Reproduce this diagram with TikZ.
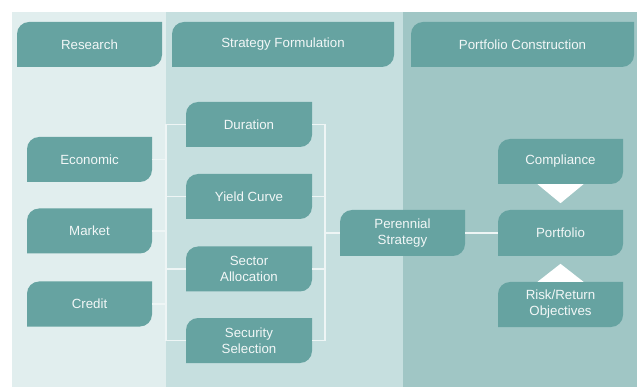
\documentclass[tikz,border=0pt]{standalone}
\usepackage{fontspec}
\setmainfont{Liberation Sans}
\definecolor{colA}{HTML}{E1EEEE}
\definecolor{colB}{HTML}{C6DFDF}
\definecolor{colC}{HTML}{A0C6C5}
\definecolor{boxc}{HTML}{66A3A1}
\definecolor{txtc}{HTML}{F2F7F7}
\definecolor{linec}{HTML}{EEF5F5}
\tikzset{
  leaf/.style={rectangle, minimum width=125pt, minimum height=45pt, inner sep=0pt,
    align=center, text=txtc, font=\fontsize{13.3}{16}\selectfont,
    path picture={\fill[boxc] (path picture bounding box.west)
      {[rounded corners=12pt] -- (path picture bounding box.north west) -- (path picture bounding box.north)}
      -- (path picture bounding box.north east) -- (path picture bounding box.east)
      {[rounded corners=12pt] -- (path picture bounding box.south east) -- (path picture bounding box.south)}
      -- (path picture bounding box.south west) -- cycle;}},
  conn/.style={draw=linec, line width=1.5pt},
  tri/.style={fill=white}
}
\begin{document}
\begin{tikzpicture}[x=1pt,y=-1pt]
\useasboundingbox (0,0) rectangle (637,387);
% columns
\fill[colA] (12,12) rectangle (166,387);
\fill[colB] (166,12) rectangle (403,387);
\fill[colC] (403,12) rectangle (637,387);
% headers
\node[leaf, minimum width=145pt] (hres) at (89.5,44.5) {Research};
\node[leaf, minimum width=222pt] (hstr) at (283,44.5) {Strategy Formulation};
\node[leaf, minimum width=223pt] (hpor) at (522.5,44.5) {Portfolio Construction};
% research
\node[leaf] (eco) at (89.5,159.5) {Economic};
\node[leaf] (mkt) at (89.5,231) {Market};
\node[leaf] (cre) at (89.5,304) {Credit};
% strategy
\node[leaf, minimum width=126pt] (dur) at (249,124.5) {Duration};
\node[leaf, minimum width=126pt] (yc) at (249,196.5) {Yield Curve};
\node[leaf, minimum width=126pt] (sec) at (249,269) {Sector\\Allocation};
\node[leaf, minimum width=126pt] (sel) at (249,340.5) {Security\\Selection};
\node[leaf, minimum height=46pt] (per) at (402.5,233) {Perennial\\Strategy};
% portfolio
\node[leaf] (comp) at (560.5,161.5) {Compliance};
\node[leaf, minimum height=46pt] (port) at (560.5,233) {Portfolio};
\node[leaf] (risk) at (560.5,304.5) {Risk/Return\\Objectives};
% buses
\coordinate (lbus) at (166,0);
\coordinate (rbus) at (325,0);
\draw[conn] (eco.east) -- (eco.east -| lbus);
\draw[conn] (mkt.east) -- (mkt.east -| lbus);
\draw[conn] (cre.east) -- (cre.east -| lbus);
\draw[conn] (dur.west -| lbus) -- (sel.west -| lbus);
\draw[conn] (dur.west) -- (dur.west -| lbus);
\draw[conn] (yc.west) -- (yc.west -| lbus);
\draw[conn] (sec.west) -- (sec.west -| lbus);
\draw[conn] (sel.west) -- (sel.west -| lbus);
\draw[conn] (dur.east -| rbus) -- (sel.east -| rbus);
\draw[conn] (dur.east) -- (dur.east -| rbus);
\draw[conn] (yc.east) -- (yc.east -| rbus);
\draw[conn] (sec.east) -- (sec.east -| rbus);
\draw[conn] (sel.east) -- (sel.east -| rbus);
\draw[conn] (per.west) -- (per.west -| rbus);
\draw[conn] (per.east) -- (port.west);
% triangles
\fill[tri] ([xshift=-23pt]comp.south) -- ([xshift=23pt]comp.south) -- ([yshift=-19pt]comp.south) -- cycle;
\fill[tri] ([xshift=-23pt]risk.north) -- ([xshift=23pt]risk.north) -- ([yshift=18pt]risk.north) -- cycle;
\end{tikzpicture}
\end{document}
